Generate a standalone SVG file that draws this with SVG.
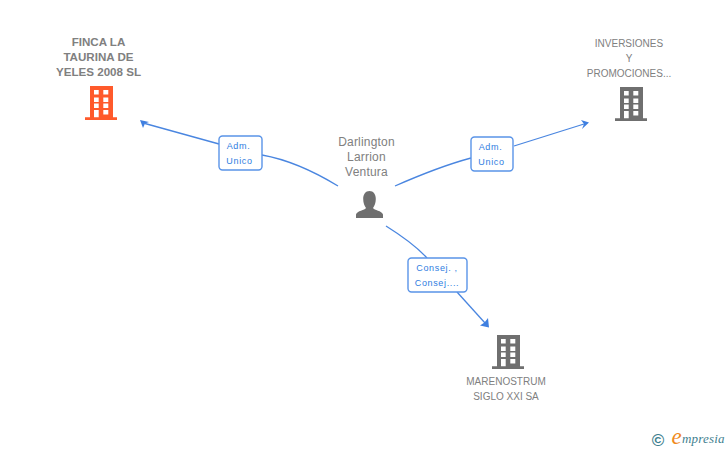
<svg xmlns="http://www.w3.org/2000/svg" width="728" height="450" viewBox="0 0 728 450">
<style>
text{font-family:"Liberation Sans",Arial,sans-serif;font-size:10px;fill:#808080;text-anchor:middle}
.b{font-size:11.600px;font-weight:bold;fill:#808080}
.p{font-size:12px;letter-spacing:.2px}
.l{font-size:9px;fill:#2f7de1;letter-spacing:.65px}
.box{fill:#fff;stroke:#5a94e8;stroke-width:1.400}
.c{fill:none;stroke:#4a86e0;stroke-width:1.300}
.a{fill:#3f7fe0}
</style>
<defs>
<symbol id="bld" viewBox="0 0 32 34" width="32" height="34" overflow="visible">
<path fill-rule="evenodd" d="M5 0H28V31.300H32V34H0V31.300H5ZM9 4V8.500H13.700V4ZM18.300 4V8.500H23.300V4ZM9 11.500V16H13.700V11.500ZM18.300 11.500V16H23.300V11.500ZM9 17.500V22H13.700V17.500ZM18.300 17.500V22H23.300V17.500ZM9 24V31.300H13.700V24ZM18.300 24V28.500H23.300V24Z"/>
</symbol>
</defs>
<g id="connectors">
<path class="c" d="M338 186C315 172 290 160 262 155"/>
<path class="c" d="M219 144L145 123.500"/>
<path class="a" d="M140 120L149 122L145 123.500L143 128Z"/>
<path class="c" d="M395 186C420 175 445 165 471 158"/>
<path class="c" d="M514 146L584 124"/>
<path class="a" d="M589 122.500L581 120L584 124L582 129Z"/>
<path class="c" d="M386 226C402 236 416 246 427 258"/>
<path class="c" d="M457 292L485 323"/>
<path class="a" d="M489 327.500L488 318L484.500 322.500L480 325.500Z"/>
</g>
<g id="node-finca">
<text class="b" x="98.500" y="46">FINCA LA</text>
<text class="b" x="98.500" y="61">TAURINA DE</text>
<text class="b" x="98.500" y="76">YELES 2008 SL</text>
<use href="#bld" x="85" y="86" fill="#ff5a2b"/>
</g>
<g id="node-inversiones">
<text x="629" y="47">INVERSIONES</text>
<text x="629" y="62">Y</text>
<text x="629" y="77">PROMOCIONES...</text>
<use href="#bld" x="615" y="87" fill="#6f6f6f"/>
</g>
<g id="node-marenostrum">
<text x="506" y="385">MARENOSTRUM</text>
<text x="506" y="400">SIGLO XXI SA</text>
<use href="#bld" x="492" y="335" fill="#6f6f6f"/>
</g>
<g id="node-person">
<text class="p" x="366.500" y="146">Darlington</text>
<text class="p" x="366.500" y="161">Larrion</text>
<text class="p" x="366.500" y="176">Ventura</text>
<path fill="#6f6f6f" d="M369.500 191C373.500 191 375.800 194.500 375.800 199C375.800 203 374.500 206 373 208C374 210.500 382 210.500 383 214.500V218H356V214.500C357 210.500 365 210.500 366 208C364.500 206 363.200 203 363.200 199C363.200 194.500 365.500 191 369.500 191Z"/>
</g>
<g id="label-adm-1">
<rect class="box" x="219" y="136" width="43" height="34" rx="3.500"/>
<text class="l" x="238.500" y="149">Adm.</text>
<text class="l" x="239.500" y="164">Unico</text>
</g>
<g id="label-adm-2">
<rect class="box" x="471" y="137" width="42" height="34" rx="3.500"/>
<text class="l" x="490.500" y="150">Adm.</text>
<text class="l" x="491.500" y="165">Unico</text>
</g>
<g id="label-consej">
<rect class="box" x="408" y="258" width="59" height="34" rx="3.500"/>
<text class="l" x="437" y="271">Consej. ,</text>
<text class="l" x="437" y="286">Consej....</text>
</g>
<g id="logo">
<text x="658" y="445.500" style="font-size:17px;fill:#3f7f8f;font-weight:bold">©</text>
<text x="676.500" y="444" style="font-family:'Liberation Serif',serif;font-style:italic;font-size:23px;fill:#f08a1d">e</text>
<text x="682" y="443" style="font-family:'Liberation Serif',serif;font-style:italic;font-size:13px;fill:#3f7f8f;letter-spacing:.2px;text-anchor:start">mpresia</text>
</g>
</svg>
